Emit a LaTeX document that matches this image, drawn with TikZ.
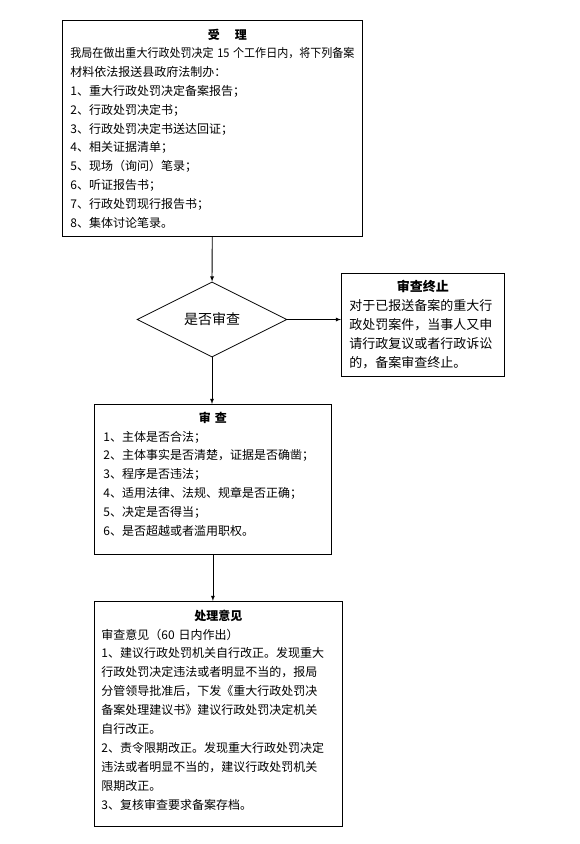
\documentclass[tikz,border=0pt]{standalone}
\usepackage{fontspec}
\setmainfont{Noto Sans CJK SC}
\usepackage{graphicx}
\usepackage{tikz}
\usetikzlibrary{shapes.geometric, arrows}
\usetikzlibrary{calc}
\tikzstyle{process} = [rectangle, draw=black, line width=0.8pt, align=left, anchor=north west, inner xsep=8pt, inner ysep=4pt, font=\fontsize{12}{18.8}\selectfont]
\tikzstyle{decision} = [diamond, draw=black, line width=0.8pt, minimum width=150pt, minimum height=75pt, inner sep=0pt, font=\fontsize{14}{16}\selectfont]
\tikzstyle{arrow} = [line width=0.8pt,->,>=latex]
\newcommand{\boxtitle}[1]{\makebox[\hsize]{\bfseries #1}}
\newcommand{\bottomgap}[1]{\par\vspace{#1}\hrule height 0pt}

\begin{document}
\begin{tikzpicture}[x=1pt, y=-1pt]
			\useasboundingbox (0,0) rectangle (579,844);
			\node(accept)[process, text width=284, minimum height=216] at (62,20) {\makebox[\hsize]{\hspace{30pt}\bfseries 受\hspace{15pt}理}\\
				\resizebox{\hsize}{\height}{我局在做出重大行政处罚决定 15 个工作日内，将下列备案}\\
				材料依法报送县政府法制办：\\
				1、重大行政处罚决定备案报告；\\
				2、行政处罚决定书；\\
				3、行政处罚决定书送达回证；\\
				4、相关证据清单；\\
				5、现场（询问）笔录；\\
				6、听证报告书；\\
				7、行政处罚现行报告书；\\
				8、集体讨论笔录。};
			\node(check)[decision] at (212,319.5) {是否审查};
			\node(stop)[process, text width=147, minimum height=103, font=\fontsize{13}{19}\selectfont] at (341,273) {\boxtitle{审查终止}\\
				对于已报送备案的重大行\\
				政处罚案件，当事人又申\\
				请行政复议或者行政诉讼\\
				的，备案审查终止。};
			\node(review)[process, text width=219, inner xsep=9pt, minimum height=150] at (94,404) {\boxtitle{审\hspace{4pt}查}\\
				1、主体是否合法；\\
				2、主体事实是否清楚，证据是否确凿；\\
				3、程序是否违法；\\
				4、适用法律、法规、规章是否正确；\\
				5、决定是否得当；\\
				6、是否超越或者滥用职权。\bottomgap{11pt}};
			\node(opinion)[process, text width=234, inner xsep=7pt, minimum height=225, font=\fontsize{12}{18.9}\selectfont] at (94,601) {\boxtitle{处理意见}\\
				审查意见（60 日内作出）\\
				1、建议行政处罚机关自行改正。发现重大\\
				行政处罚决定违法或者明显不当的，报局\\
				分管领导批准后，下发《重大行政处罚决\\
				备案处理建议书》建议行政处罚决定机关\\
				自行改正。\\
				2、责令限期改正。发现重大行政处罚决定\\
				违法或者明显不当的，建议行政处罚机关\\
				限期改正。\\
				3、复核审查要求备案存档。\bottomgap{8pt}};

			\draw [arrow] (accept) -- (check);
			\draw [arrow] (check.east) -- (check.east -| stop.west);
			\draw [arrow] (check.south) -- (check.south |- review.north);
			\draw [arrow] (review.south) -- (review.south |- opinion.north);
		\end{tikzpicture}
\end{document}
